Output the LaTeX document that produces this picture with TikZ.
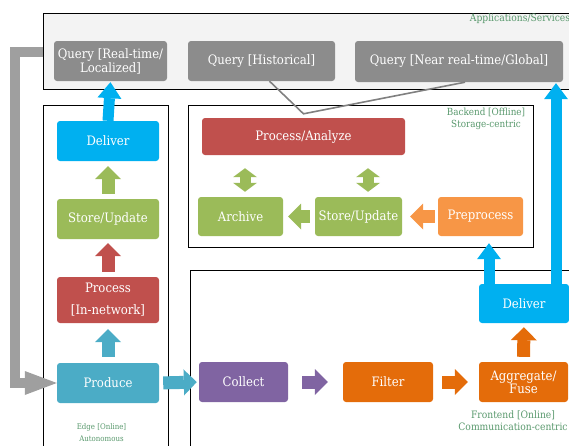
\documentclass[tikz,border=0pt]{standalone}
\usepackage{fontspec}
\setmainfont{DejaVu Serif Condensed}
\usepackage{tikz}
\usetikzlibrary{arrows.meta}
\definecolor{cblue}{RGB}{0,176,240}
\definecolor{cgreen}{RGB}{155,187,89}
\definecolor{cred}{RGB}{192,80,77}
\definecolor{cteal}{RGB}{75,172,198}
\definecolor{cpurple}{RGB}{128,100,162}
\definecolor{corange}{RGB}{228,108,10}
\definecolor{clorange}{RGB}{247,150,70}
\definecolor{cquery}{RGB}{140,140,140}
\definecolor{clabel}{RGB}{88,152,108}
\definecolor{cpanel}{RGB}{243,243,243}

\begin{document}
\begin{tikzpicture}[x=1pt,y=-1pt,
		box/.style={rounded corners=3pt,text=white,inner sep=0pt,align=center,font=\fontsize{13}{14}\selectfont},
		frame/.style={draw=black,line width=1.3pt,inner sep=0pt,anchor=north west},
		tag/.style={text=clabel,align=center,font=\fontsize{10.2}{12}\selectfont},
		fat/.style={line width=13pt,-{Triangle[length=13pt,width=26pt,line width=0pt]}},
		up/.style={line width=11pt,-{Triangle[length=16pt,width=24pt,line width=0pt]}},
		dbl/.style={line width=11pt,{Triangle[length=9pt,width=24pt,line width=0pt]}-{Triangle[length=9pt,width=24pt,line width=0pt]}},
		link/.style={draw=gray,line width=1.6pt}]
				\useasboundingbox (0,0) rectangle (569,445);
				\clip (0,0) rectangle (569,445);
				
				\node[frame,fill=cpanel,minimum width=540pt,minimum height=76pt] (apps) at (43,13) {};
				\node[frame,minimum width=125pt,minimum height=360pt] (edge) at (43,105) {};
				\node[frame,minimum width=345pt,minimum height=142pt] (back) at (188,105) {};
				\node[frame,minimum width=390pt,minimum height=200pt] (front) at (190,270) {};
				
				\node[tag] (applbl) at (520,18.5) {Applications/Services};
				\node[tag,font=\fontsize{9.8}{12}\selectfont] (backlbl) at (486,119) {Backend [Offline]\\Storage-centric};
				\node[tag,font=\fontsize{7.8}{12.5}\selectfont] (edgelbl) at (101.5,432.5) {Edge [Online]\\Autonomous};
				\node[tag] (frontlbl) at (513,421) {Frontend [Online]\\Communication-centric};
				
				\node[box,fill=cquery,minimum width=113pt,minimum height=40pt] (qloc) at (110.5,61) {Query [Real-time/\\Localized]};
				\node[box,fill=cquery,minimum width=147pt,minimum height=40pt] (qhist) at (261.5,61) {Query [Historical]};
				\node[box,fill=cquery,minimum width=208pt,minimum height=41pt] (qglob) at (459,61.5) {Query [Near real-time/Global]};
				
				\node[box,fill=cblue,minimum width=102pt,minimum height=40pt] (edeliver) at (108,141) {Deliver};
				\node[box,fill=cgreen,minimum width=102pt,minimum height=40pt] (estore) at (108,219) {Store/Update};
				\node[box,fill=cred,minimum width=102pt,minimum height=46pt,font=\fontsize{13}{22}\selectfont] (eproc) at (108,300) {Process\\{}[In-network]};
				\node[box,fill=cteal,minimum width=102pt,minimum height=40pt] (produce) at (108,383) {Produce};
				
				\node[box,fill=cred,minimum width=203pt,minimum height=37pt] (pa) at (303.5,136.5) {Process/Analyze};
				\node[box,fill=cgreen,minimum width=85pt,minimum height=39pt] (archive) at (240.5,216.5) {Archive};
				\node[box,fill=cgreen,minimum width=87pt,minimum height=39pt] (bstore) at (358.5,216.5) {Store/Update};
				\node[box,fill=clorange,minimum width=85pt,minimum height=39pt] (pre) at (480.5,216.5) {Preprocess};
				
				\node[box,fill=cpurple,minimum width=89pt,minimum height=40pt] (collect) at (243.5,382) {Collect};
				\node[box,fill=corange,minimum width=90pt,minimum height=40pt] (filter) at (388,382) {Filter};
				\node[box,fill=corange,minimum width=89pt,minimum height=40pt,font=\fontsize{13}{13}\selectfont] (agg) at (523.5,382) {Aggregate/\\Fuse};
				\node[box,fill=cblue,minimum width=90pt,minimum height=39pt] (fdeliver) at (524,303.5) {Deliver};
				
				\coordinate (dblA) at ([xshift=4.5pt]archive.north);
				\coordinate (dblB) at ([xshift=9.5pt]bstore.north);
				\coordinate (upA) at ([xshift=-35pt]fdeliver.north);
				\coordinate (upB) at ([xshift=32pt]fdeliver.north);
				
				\draw[link] ([xshift=8pt]qhist.south) -- ([yshift=4pt]pa.north) -- ([xshift=6pt]qglob.south);
				\draw[draw=gray!75,line width=10pt,-{Triangle[length=32pt,width=24pt,line width=0pt]}] (apps.west) -- ++(-28,0) |- (produce.west);
				
				\draw[fat,cteal,shorten <=6pt,shorten >=6pt] (produce.north) -- (eproc.south);
				\draw[fat,cred,shorten <=5pt,shorten >=4pt] (eproc.north) -- (estore.south);
				\draw[fat,cgreen,shorten <=5pt,shorten >=5pt] (estore.north) -- (edeliver.south);
				\draw[up,cblue,shorten >=1pt] (edeliver.north) -- (qloc.south);
				
				\draw[fat,cteal,shorten <=4pt,shorten >=2pt] (produce.east) -- (collect.west);
				\draw[fat,cpurple,shorten <=14pt,shorten >=15pt] (collect.east) -- (filter.west);
				\draw[fat,corange,shorten <=9pt,shorten >=11pt] (filter.east) -- (agg.west);
				\draw[fat,corange,shorten <=5pt,shorten >=4pt] (agg.north) -- (fdeliver.south);
				
				\draw[fat,clorange,shorten <=3pt,shorten >=8pt] (pre.west) -- (bstore.east);
				\draw[fat,cgreen,shorten <=5pt,shorten >=5pt] (bstore.west) -- (archive.east);
				\draw[dbl,cgreen,shorten <=5pt,shorten >=13pt] (dblA) -- (dblA |- pa.south);
				\draw[dbl,cgreen,shorten <=5pt,shorten >=13pt] (dblB) -- (dblB |- pa.south);
				
				\draw[up,cblue,shorten >=7pt] (upA) -- (upA |- pre.south);
				\draw[up,cblue,shorten >=1pt] (upB) -- (upB |- qglob.south);
\end{tikzpicture}
\end{document}
